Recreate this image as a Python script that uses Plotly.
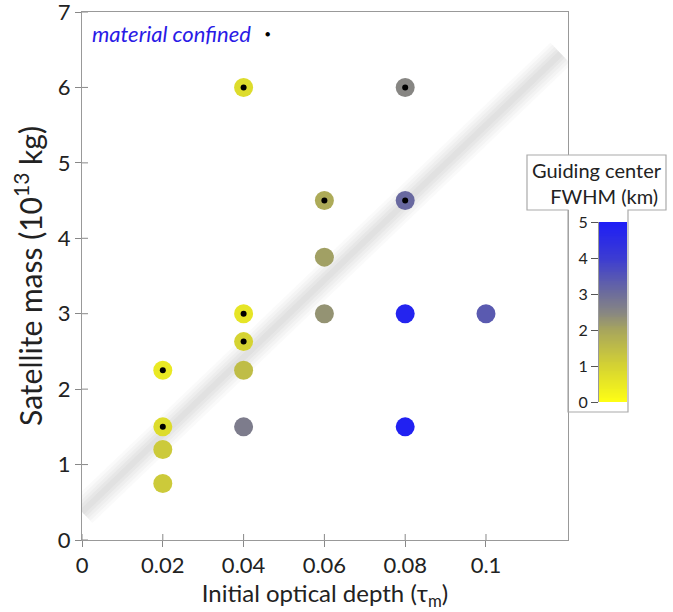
import numpy as np
import plotly.graph_objects as go

# ---- data ----
tau = [0.02, 0.02, 0.02, 0.02, 0.04, 0.04, 0.04, 0.04, 0.04,
       0.06, 0.06, 0.06, 0.08, 0.08, 0.08, 0.08, 0.10]
mass = [0.75, 1.2, 1.5, 2.25, 1.5, 2.25, 2.63, 3.0, 6.0,
        3.0, 3.75, 4.5, 1.5, 3.0, 4.5, 6.0, 3.0]
fwhm = [1.2, 1.2, 0.8, 0.5, 2.7, 1.5, 1.0, 0.6, 0.8,
        2.3, 2.1, 1.9, 4.9, 4.8, 3.1, 2.5, 3.4]
confined = [0, 0, 1, 1, 0, 0, 1, 1, 1, 0, 0, 1, 0, 0, 1, 1, 0]

band_x = [0.0, 0.1185]
band_y = [0.37, 6.45]

x_ticks = [0, 0.02, 0.04, 0.06, 0.08, 0.1]
x_ticklabels = ["0", "0.02", "0.04", "0.06", "0.08", "0.1"]
y_ticks = [0, 1, 2, 3, 4, 5, 6, 7]
cb_ticks = [0, 1, 2, 3, 4, 5]

colorscale = [[0.0, "#ffff14"], [0.2, "#d5d332"], [0.4, "#a8a65c"],
              [0.5, "#878683"], [0.6, "#6e6e9a"], [0.8, "#3c3cd2"],
              [1.0, "#1e1ef6"]]

FONT = "Lato"
W, H = 673, 612
ML, MR, MT, MB = 82, 40, 12, 72
PW = W - ML - MR
PH = H - MT - MB


def px2x(px):
    return (px - ML) / PW


def px2y(py):
    return (H - MB - py) / PH


fig = go.Figure()

# blurred band
for w, a in [(30, 0.035), (24, 0.04), (18, 0.045), (12, 0.05), (6, 0.05)]:
    fig.add_trace(go.Scatter(x=band_x, y=band_y, mode="lines",
                             line=dict(color=f"rgba(110,110,110,{a})", width=w),
                             hoverinfo="skip", showlegend=False))

# data points
fig.add_trace(go.Scatter(
    x=tau, y=mass, mode="markers",
    marker=dict(size=19, color=fwhm, colorscale=colorscale, cmin=0, cmax=5,
                line=dict(width=0), showscale=False),
    showlegend=False))

# confined black dots
cx = [t for t, c in zip(tau, confined) if c]
cy = [m for m, c in zip(mass, confined) if c]
fig.add_trace(go.Scatter(x=cx, y=cy, mode="markers",
                         marker=dict(size=6, color="black"), showlegend=False))

# colorbar as heatmap
cb_y = np.linspace(0, 5, 201)
fig.add_trace(go.Heatmap(
    x=[0, 1], y=cb_y, z=[[v, v] for v in cb_y],
    colorscale=colorscale, zmin=0, zmax=5, showscale=False, zsmooth="best",
    xaxis="x2", yaxis="y2", hoverinfo="skip"))

main_right = px2x(568)
fig.update_layout(
    width=W, height=H,
    margin=dict(l=ML, r=MR, t=MT, b=MB, autoexpand=False),
    paper_bgcolor="white", plot_bgcolor="white",
    font=dict(family=FONT, color="#222", size=20),
    xaxis=dict(domain=[0, main_right], range=[0, 0.1203], tickvals=x_ticks,
               ticktext=x_ticklabels, ticks="outside", ticklen=6,
               tickcolor="#888", showline=True, linecolor="#999", mirror=True,
               showgrid=False, zeroline=False, tickfont=dict(size=22),
               automargin=False, ticklabeloverflow="allow",
               title=dict(text="Initial optical depth (τ<sub>m</sub>)",
                          font=dict(size=24), standoff=6)),
    yaxis=dict(domain=[0, 1], range=[0, 7], tickvals=y_ticks, ticks="outside",
               ticklen=6, tickcolor="#888", showline=True, linecolor="#999",
               mirror=True, showgrid=False, zeroline=False,
               tickfont=dict(size=22), automargin=False,
               ticklabeloverflow="allow",
               title=dict(text="Satellite mass (10<sup>13</sup> kg)",
                          font=dict(size=30), standoff=6)),
    xaxis2=dict(domain=[px2x(599), px2x(627)], range=[0, 1], visible=False,
                anchor="y2", automargin=False),
    yaxis2=dict(domain=[px2y(402), px2y(222)], range=[0, 5], anchor="x2",
                tickvals=cb_ticks, ticks="outside", ticklen=7,
                tickcolor="#555", showline=True, linecolor="#999",
                showgrid=False, zeroline=False, tickfont=dict(size=16),
                side="left", automargin=False, ticklabeloverflow="allow"),
)

# inside tick halves (crossing ticks)
for t in x_ticks:
    fig.add_shape(type="line", xref="x", yref="paper", x0=t, x1=t,
                  y0=0, y1=6 / PH, line=dict(color="#888", width=1))
for t in y_ticks:
    fig.add_shape(type="line", xref="paper", yref="y", y0=t, y1=t,
                  x0=0, x1=6 / PW, line=dict(color="#888", width=1))

# T-shaped colorbar frame
x_l, x_r = px2x(527), px2x(666)
s_l, s_r = px2x(568), px2x(628)
y_t, y_m, y_b = px2y(155), px2y(210), px2y(412)
path = (f"M {x_l},{y_t} L {x_r},{y_t} L {x_r},{y_m} L {s_r},{y_m} "
        f"L {s_r},{y_b} L {s_l},{y_b} L {s_l},{y_m} L {x_l},{y_m} Z")
fig.add_shape(type="rect", xref="paper", yref="paper", x0=x_l, x1=x_r,
              y0=y_m, y1=y_t, line=dict(width=0), fillcolor="white",
              layer="above")
fig.add_shape(type="path", xref="paper", yref="paper", path=path,
              line=dict(color="#aaa", width=1.2), fillcolor="rgba(0,0,0,0)",
              layer="above")

fig.add_annotation(xref="paper", yref="paper", x=(x_l + x_r) / 2,
                   y=(y_t + y_m) / 2, xanchor="center", yanchor="middle",
                   text="Guiding center<br>   FWHM (km)",
                   showarrow=False, font=dict(size=20, color="#222"),
                   align="center")

fig.add_annotation(xref="paper", yref="paper", x=px2x(90), y=px2y(33),
                   xanchor="left", yanchor="middle",
                   text="<i>material confined</i>", showarrow=False,
                   font=dict(size=22, color="#2a1ae6"))
fig.add_annotation(xref="paper", yref="paper", x=px2x(267), y=px2y(34),
                   xanchor="center", yanchor="middle",
                   text="●", showarrow=False, font=dict(size=9, color="black"))

fig.write_html("out.html")
